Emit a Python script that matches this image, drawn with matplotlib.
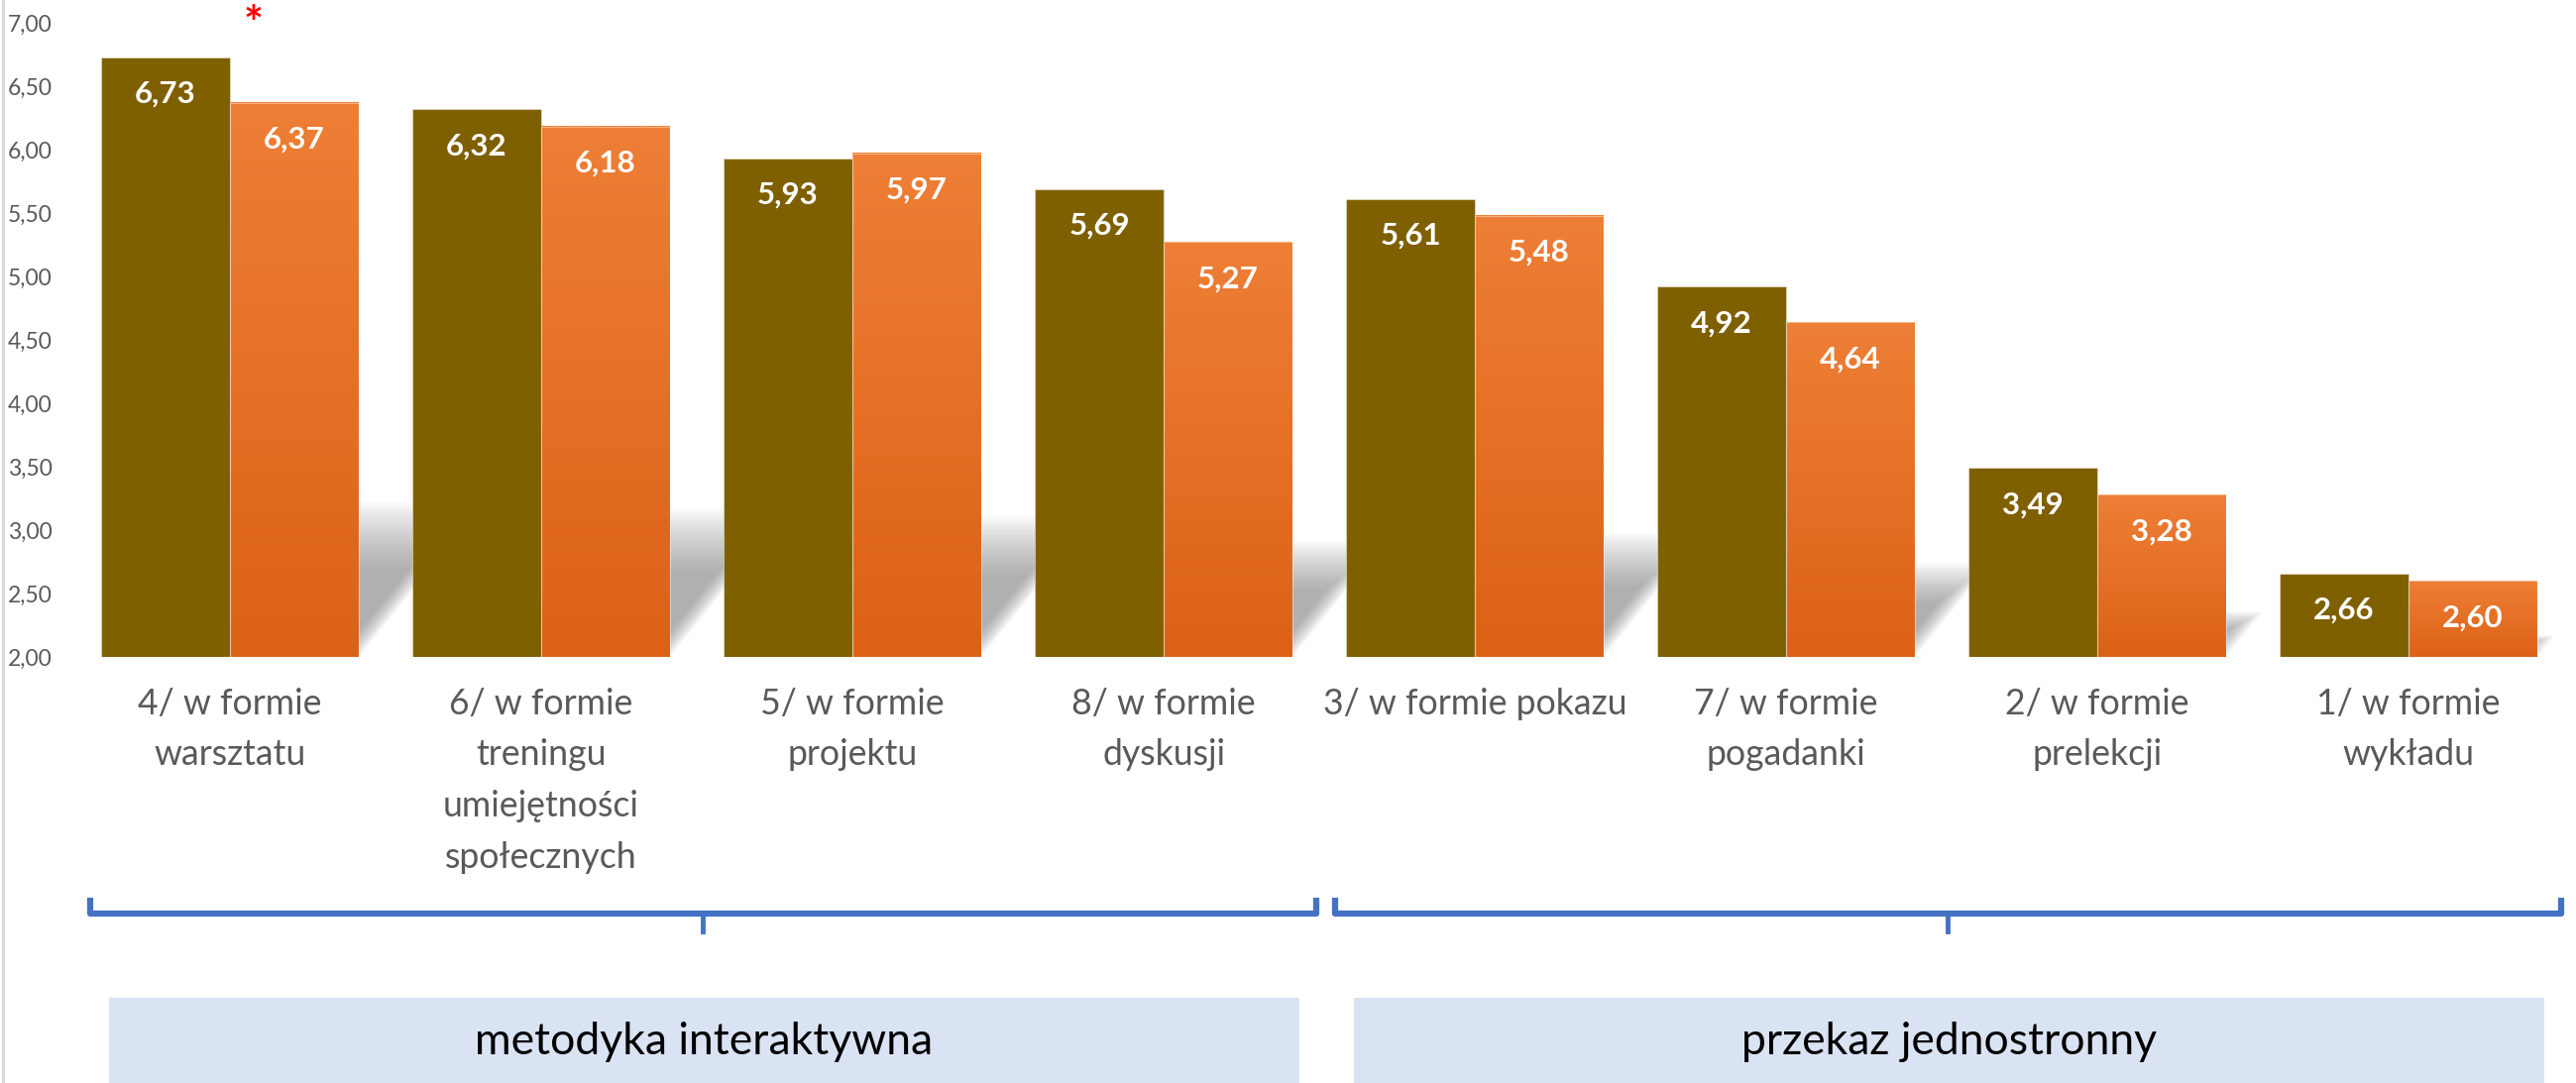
import numpy as np
import matplotlib
matplotlib.use('Agg')
import matplotlib.pyplot as plt
from matplotlib.patches import Polygon, Rectangle
from matplotlib.lines import Line2D
from matplotlib.transforms import blended_transform_factory
from matplotlib.colors import LinearSegmentedColormap

plt.rcParams['font.family'] = ['Lato', 'DejaVu Sans']

# --- data ---
categories = [
    '4/ w formie\nwarsztatu',
    '6/ w formie\ntreningu\numiejętności\nspołecznych',
    '5/ w formie\nprojektu',
    '8/ w formie\ndyskusji',
    '3/ w formie pokazu',
    '7/ w formie\npogadanki',
    '2/ w formie\nprelekcji',
    '1/ w formie\nwykładu',
]
series_a = [6.73, 6.32, 5.93, 5.69, 5.61, 4.92, 3.49, 2.66]
series_b = [6.37, 6.18, 5.97, 5.27, 5.48, 4.64, 3.28, 2.60]
y_ticks = [2.0, 2.5, 3.0, 3.5, 4.0, 4.5, 5.0, 5.5, 6.0, 6.5, 7.0]
groups = ['metodyka interaktywna', 'przekaz jednostronny']
group_spans = [(0, 3), (4, 7)]
starred = [0]

W, H = 2599, 1093
y_min, y_max = 2.0, 7.0
bar_w = 0.414
dark = '#7F6000'
orange_cmap = LinearSegmentedColormap.from_list('og', ['#DC6115', '#EE7F36'])
tick_grey = '#595959'
blue = '#4472C4'


def fy(px):
    # figure fraction from a pixel row measured from the top
    return 1 - px / H


fig = plt.figure(figsize=(W / 100, H / 100), dpi=100)
ax = fig.add_axes([75 / W, fy(663), (2587 - 75) / W, (663 - 23) / H])

x = np.arange(len(categories))


def draw_shadow(x0, w, v):
    # soft perspective shadow, built up from stacked translucent layers
    h = (v - y_min) * 0.28
    dx = h * 0.33
    n = 18
    for i in range(n):
        f = 1 - 0.025 * i
        ins = 0.004 * i
        hh = h * f
        d = dx * f
        pts = [(x0 + ins, y_min), (x0 + w - ins, y_min),
               (x0 + w - ins + d, y_min + hh), (x0 + ins + d, y_min + hh)]
        ax.add_patch(Polygon(pts, closed=True, facecolor='#7a7a7a',
                             edgecolor='none', alpha=0.045, zorder=1))


bars_a = ax.bar(x - bar_w / 2, np.array(series_a) - y_min, bar_w, bottom=y_min,
                color=dark, zorder=3, edgecolor=(1, 1, 1, 0.4), linewidth=0.8)
bars_b = ax.bar(x + bar_w / 2, np.array(series_b) - y_min, bar_w, bottom=y_min,
                color='none', zorder=3, edgecolor=(1, 1, 1, 0.4), linewidth=0.8)

grad = np.linspace(0, 1, 256).reshape(-1, 1)
for bar in bars_b:
    bx, by = bar.get_x(), bar.get_y()
    bw, bh = bar.get_width(), bar.get_height()
    ax.imshow(grad, extent=[bx, bx + bw, by, by + bh], origin='lower',
              cmap=orange_cmap, aspect='auto', zorder=2.5, interpolation='bilinear')

for bar in list(bars_a) + list(bars_b):
    draw_shadow(bar.get_x(), bar.get_width(), bar.get_y() + bar.get_height())

# value labels
for bars, vals in [(bars_a, series_a), (bars_b, series_b)]:
    for bar, v in zip(bars, vals):
        ax.text(bar.get_x() + bar.get_width() / 2, v - 0.36,
                f'{v:.2f}'.replace('.', ','), ha='center', va='baseline',
                color='white', fontsize=22.5, fontweight='bold', zorder=5)

# asterisk
for i in starred:
    ax.text(i + 0.076, y_max - 0.02, '*', color='#FF0000', fontsize=34,
            fontweight='bold', ha='center', va='center', zorder=5)

ax.set_xlim(-0.5, len(categories) - 0.5)
ax.set_ylim(y_min, y_max)
ax.set_yticks(y_ticks)
ax.set_yticklabels([f'{t:.2f}'.replace('.', ',') for t in y_ticks])
ax.set_xticks(x)
ax.set_xticklabels(categories, linespacing=1.7)
ax.tick_params(axis='y', length=0, pad=16, labelsize=16.5, labelcolor=tick_grey)
ax.tick_params(axis='x', length=0, pad=22, labelsize=25.7, labelcolor=tick_grey)
for s in ax.spines.values():
    s.set_visible(False)

# brackets and group boxes
tr = blended_transform_factory(ax.transData, fig.transFigure)
for (a, b), name in zip(group_spans, groups):
    x0, x1 = a - 0.45, b + 0.49
    xm = (x0 + x1) / 2
    ax.add_line(Line2D([x0, x0, x1, x1], [fy(906), fy(922), fy(922), fy(906)],
                       transform=tr, color=blue, lw=4.5, clip_on=False,
                       solid_joinstyle='round', solid_capstyle='butt'))
    ax.add_line(Line2D([xm, xm], [fy(922), fy(940)], transform=tr, color=blue,
                       lw=3.5, clip_on=False))
    bx0, bx1 = a - 0.39, b + 0.435
    ax.add_patch(Rectangle((bx0, 0), bx1 - bx0, fy(1007), transform=tr,
                           facecolor='#DAE3F3', edgecolor='none', clip_on=False))
    ax.text((bx0 + bx1) / 2, fy(1051), name, transform=tr, ha='center',
            va='center', fontsize=32, color='black')

fig.add_artist(Line2D([3 / W, 3 / W], [0, 1], color='#D9D9D9', lw=2.2))

fig.savefig('out.png', dpi=100)
